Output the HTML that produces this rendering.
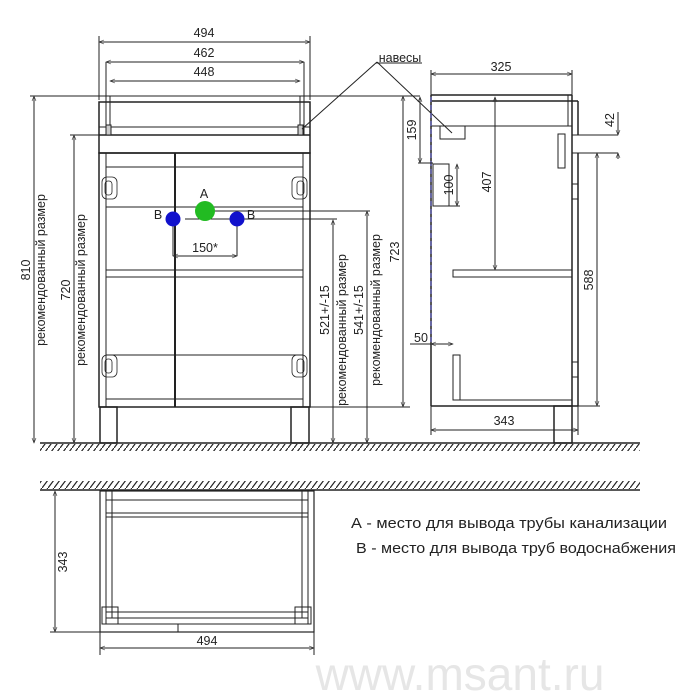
<!DOCTYPE html>
<html><head><meta charset="utf-8"><style>
html,body{margin:0;padding:0;background:#fff}
svg{display:block}
text{font-family:"Liberation Sans",sans-serif;fill:#222}
</style></head><body>
<svg width="700" height="700" viewBox="0 0 700 700" xmlns="http://www.w3.org/2000/svg">
<defs>
<marker id="a" viewBox="0 0 10 10" refX="10" refY="5" markerWidth="7" markerHeight="5" orient="auto-start-reverse"><path d="M0,1L10,5L0,9" fill="none" stroke="#333" stroke-width="1.2"/></marker>
<pattern id="h" width="6" height="8" patternUnits="userSpaceOnUse"><path d="M6,0L0,8" stroke="#222" stroke-width="1.2"/></pattern>
</defs>
<g stroke="#222" fill="none" stroke-width="1">
<line x1="40" y1="443" x2="640" y2="443" stroke-width="1.5"/>
<rect x="40" y="444" width="600" height="7" fill="url(#h)" stroke="none"/>
<line x1="40" y1="490" x2="640" y2="490" stroke-width="1.5"/>
<rect x="40" y="481" width="600" height="8" fill="url(#h)" stroke="none"/>

<rect x="106" y="96" width="198" height="39"/>
<rect x="99" y="102" width="211" height="51" stroke-width="1.5"/>
<line x1="99" y1="127" x2="310" y2="127"/>
<line x1="99" y1="135" x2="310" y2="135" stroke-width="1.5"/>
<line x1="110" y1="96" x2="110" y2="127"/><line x1="300" y1="96" x2="300" y2="127"/>
<rect x="106" y="125" width="5" height="10" fill="#ccc"/><rect x="298" y="125" width="5" height="10" fill="#ccc"/>
<rect x="99" y="153" width="211" height="254" stroke-width="1.5"/>
<line x1="175" y1="153" x2="175" y2="407" stroke-width="2"/>
<line x1="106" y1="153" x2="106" y2="407"/><line x1="303" y1="153" x2="303" y2="407"/>
<line x1="106" y1="167" x2="303" y2="167"/>
<line x1="106" y1="207" x2="303" y2="207"/>
<line x1="106" y1="270" x2="303" y2="270"/>
<line x1="106" y1="277" x2="303" y2="277"/>
<line x1="106" y1="355" x2="303" y2="355"/>
<line x1="106" y1="399" x2="303" y2="399"/>
<g stroke-width="0.8">
<rect x="102" y="177" width="15" height="22" rx="5"/><rect x="105" y="181" width="7" height="14" rx="3"/>
<rect x="292" y="177" width="15" height="22" rx="5"/><rect x="297" y="181" width="7" height="14" rx="3"/>
<rect x="102" y="355" width="15" height="22" rx="5"/><rect x="105" y="359" width="7" height="14" rx="3"/>
<rect x="292" y="355" width="15" height="22" rx="5"/><rect x="297" y="359" width="7" height="14" rx="3"/>
</g>
<rect x="100" y="407" width="17" height="36" stroke-width="1.5"/>
<rect x="291" y="407" width="18" height="36" stroke-width="1.5"/>
<line x1="185" y1="219" x2="337" y2="219"/>
<line x1="205" y1="211" x2="370" y2="211"/>
<line x1="173" y1="219" x2="173" y2="256"/><line x1="237" y1="219" x2="237" y2="256"/>
<line x1="173" y1="256" x2="237" y2="256" marker-start="url(#a)" marker-end="url(#a)"/>
<line x1="99" y1="36" x2="99" y2="100"/><line x1="310" y1="36" x2="310" y2="100"/>
<line x1="99" y1="42" x2="310" y2="42" marker-start="url(#a)" marker-end="url(#a)"/>
<line x1="106" y1="62" x2="106" y2="96"/><line x1="304" y1="62" x2="304" y2="96"/>
<line x1="106" y1="62" x2="304" y2="62" marker-start="url(#a)" marker-end="url(#a)"/>
<line x1="110" y1="81" x2="300" y2="81" marker-start="url(#a)" marker-end="url(#a)"/>
<line x1="30" y1="96" x2="420" y2="96"/>
<line x1="34" y1="96" x2="34" y2="443" marker-start="url(#a)" marker-end="url(#a)"/>
<line x1="70" y1="135" x2="106" y2="135"/>
<line x1="74" y1="135" x2="74" y2="443" marker-start="url(#a)" marker-end="url(#a)"/>
<line x1="333" y1="220" x2="333" y2="443" marker-start="url(#a)" marker-end="url(#a)"/>
<line x1="367" y1="211" x2="367" y2="443" marker-start="url(#a)" marker-end="url(#a)"/>
<line x1="310" y1="407" x2="410" y2="407"/>
<line x1="403" y1="96" x2="403" y2="407" marker-start="url(#a)" marker-end="url(#a)"/>
<line x1="377" y1="62" x2="302" y2="129"/>
<line x1="377" y1="62" x2="452" y2="133"/>
<line x1="376" y1="63" x2="422" y2="63"/>

<line x1="431" y1="95" x2="572" y2="95" stroke-width="1.5"/>
<line x1="431" y1="101" x2="578" y2="101" stroke-width="1.5"/>
<line x1="431" y1="126" x2="572" y2="126"/>
<line x1="568" y1="95" x2="568" y2="126"/>
<line x1="572" y1="95" x2="572" y2="406" stroke-width="1.5"/>
<line x1="578" y1="101" x2="578" y2="135" stroke-width="1.5"/>
<line x1="578" y1="153" x2="578" y2="406" stroke-width="1.5"/>
<line x1="572" y1="135" x2="618" y2="135"/><line x1="572" y1="153" x2="618" y2="153"/>
<line x1="618" y1="112" x2="618" y2="135" marker-end="url(#a)"/>
<line x1="618" y1="153" x2="618" y2="159" marker-start="url(#a)"/>
<line x1="431" y1="95" x2="431" y2="406" stroke-width="1.5"/>
<line x1="431" y1="97" x2="431" y2="344" stroke="#5a5aa8" stroke-width="1.5" stroke-dasharray="5,3"/>
<rect x="440" y="126" width="25" height="13"/>
<rect x="433" y="164" width="16" height="42"/>
<rect x="558" y="134" width="7" height="34"/>
<rect x="572" y="184" width="6" height="15"/><rect x="572" y="362" width="6" height="15"/>
<rect x="453" y="270" width="119" height="7"/>
<rect x="453" y="355" width="7" height="45"/>
<line x1="453" y1="400" x2="572" y2="400"/>
<line x1="431" y1="406" x2="578" y2="406" stroke-width="1.5"/>
<rect x="554" y="406" width="18" height="37" stroke-width="1.5"/>
<line x1="431" y1="70" x2="431" y2="95"/><line x1="572" y1="70" x2="572" y2="95"/>
<line x1="431" y1="74" x2="572" y2="74" marker-start="url(#a)" marker-end="url(#a)"/>
<line x1="431" y1="406" x2="431" y2="435"/><line x1="578" y1="406" x2="578" y2="435"/>
<line x1="431" y1="430" x2="578" y2="430" marker-start="url(#a)" marker-end="url(#a)"/>
<line x1="495" y1="97" x2="495" y2="270" marker-start="url(#a)" marker-end="url(#a)"/>
<line x1="578" y1="406" x2="600" y2="406"/>
<line x1="597" y1="153" x2="597" y2="406" marker-start="url(#a)" marker-end="url(#a)"/>
<line x1="578" y1="153" x2="602" y2="153"/>
<line x1="420" y1="97" x2="420" y2="163" marker-start="url(#a)" marker-end="url(#a)"/>
<line x1="418" y1="163" x2="433" y2="163"/>
<line x1="457" y1="164" x2="457" y2="206" marker-start="url(#a)" marker-end="url(#a)"/>
<line x1="449" y1="206" x2="460" y2="206"/>
<line x1="410" y1="344" x2="431" y2="344"/>
<line x1="431" y1="344" x2="453" y2="344" marker-start="url(#a)" marker-end="url(#a)"/>

<rect x="100" y="491" width="214" height="141" stroke-width="1.2"/>
<rect x="106" y="491" width="202" height="133"/>
<line x1="106" y1="500" x2="308" y2="500"/>
<line x1="106" y1="513" x2="308" y2="513"/>
<line x1="106" y1="517" x2="308" y2="517"/>
<line x1="106" y1="612" x2="308" y2="612"/>
<line x1="106" y1="618" x2="308" y2="618"/>
<line x1="112" y1="491" x2="112" y2="618"/><line x1="302" y1="491" x2="302" y2="618"/>
<rect x="102" y="607" width="16" height="17"/><rect x="295" y="607" width="16" height="17"/>
<line x1="178" y1="624" x2="178" y2="632"/>
<line x1="50" y1="632" x2="100" y2="632"/>
<line x1="55" y1="491" x2="55" y2="632" marker-start="url(#a)" marker-end="url(#a)"/>
<line x1="100" y1="632" x2="100" y2="655"/><line x1="314" y1="632" x2="314" y2="655"/>
<line x1="100" y1="648" x2="314" y2="648" marker-start="url(#a)" marker-end="url(#a)"/>
</g>
<circle cx="205" cy="211" r="10" fill="#22bb22"/>
<circle cx="173" cy="219" r="7.5" fill="#1111cc"/>
<circle cx="237" cy="219" r="7.5" fill="#1111cc"/>
<g font-size="12.5" text-anchor="middle">
<text x="204" y="37">494</text>
<text x="204" y="57">462</text>
<text x="204" y="76">448</text>
<text x="204" y="198">A</text>
<text x="158" y="219">B</text>
<text x="251" y="219">B</text>
<text x="205" y="252">150*</text>
<text x="400" y="62" text-anchor="middle">навесы</text>
<text x="501" y="71">325</text>
<text x="504" y="425">343</text>
<text x="421" y="342">50</text>
<text x="207" y="645">494</text>
<text transform="translate(30,270) rotate(-90)">810</text>
<text transform="translate(45,270) rotate(-90)">рекомендованный размер</text>
<text transform="translate(70,290) rotate(-90)">720</text>
<text transform="translate(85,290) rotate(-90)">рекомендованный размер</text>
<text transform="translate(329,310) rotate(-90)">521+/-15</text>
<text transform="translate(346,330) rotate(-90)">рекомендованный размер</text>
<text transform="translate(363,310) rotate(-90)">541+/-15</text>
<text transform="translate(380,310) rotate(-90)">рекомендованный размер</text>
<text transform="translate(399,252) rotate(-90)">723</text>
<text transform="translate(416,130) rotate(-90)">159</text>
<text transform="translate(453,185) rotate(-90)">100</text>
<text transform="translate(491,182) rotate(-90)">407</text>
<text transform="translate(593,280) rotate(-90)">588</text>
<text transform="translate(614,120) rotate(-90)">42</text>
<text transform="translate(67,562) rotate(-90)">343</text>
</g>
<text x="351" y="528" font-size="14.5" textLength="316" lengthAdjust="spacingAndGlyphs">А - место для вывода трубы канализации</text>
<text x="356" y="553" font-size="14.5" textLength="320" lengthAdjust="spacingAndGlyphs">В - место для вывода труб водоснабжения</text>
<text x="460" y="690" font-size="46" text-anchor="middle" style="fill:#e6e6e6">www.msant.ru</text>
</svg>
</body></html>
